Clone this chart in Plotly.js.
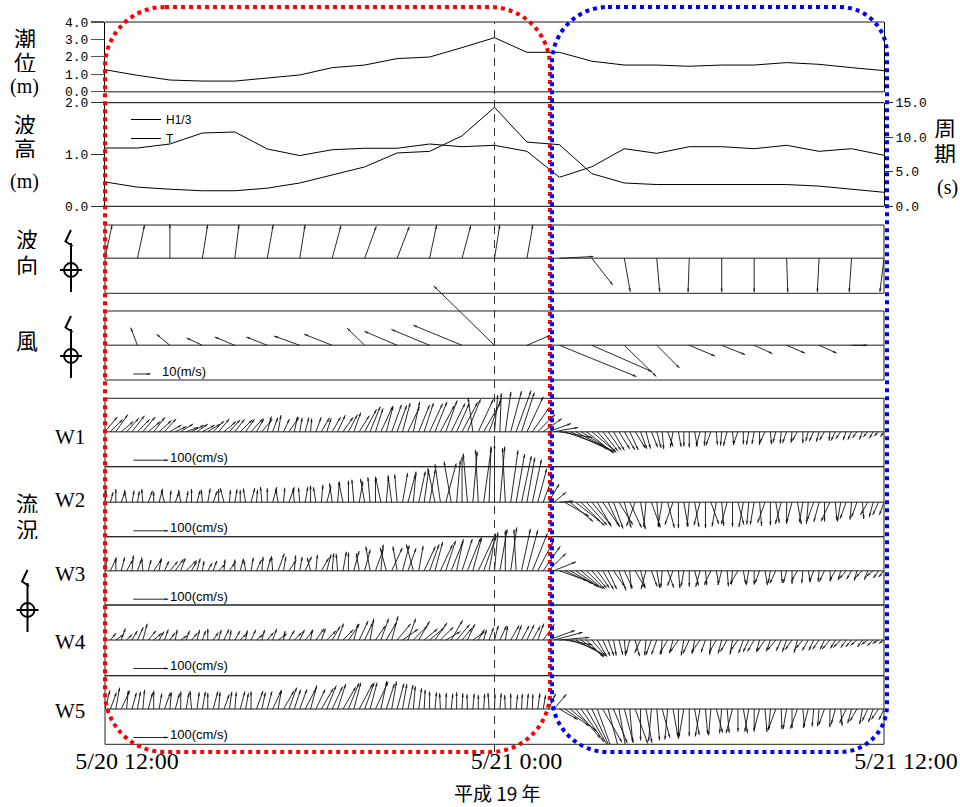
<!DOCTYPE html>
<html>
<head>
<meta charset="utf-8">
<script src="https://cdn.plot.ly/plotly-3.0.1.min.js"></script>
<style>
  html, body { margin: 0; padding: 0; background: #fff; }
  #chart { width: 960px; height: 807px; }
</style>
</head>
<body>
<div id="chart"></div>
<script>
// ---- Observation data, 5/20 12:00 – 5/21 12:00 (hours since 5/20 12:00) ----

// Hourly series
const hourlyTimes = [0,1,2,3,4,5,6,7,8,9,10,11,12,13,14,15,16,17,18,19,20,21,22,23,24];
const tideLevel   = [1.26,0.94,0.67,0.61,0.61,0.79,0.96,1.38,1.53,1.90,1.99,2.53,3.10,2.26,2.26,1.75,1.53,1.53,1.46,1.53,1.53,1.67,1.57,1.38,1.21];
const waveHeight  = [0.47,0.37,0.33,0.30,0.30,0.35,0.45,0.60,0.76,1.03,1.06,1.36,1.91,1.24,1.19,0.63,0.45,0.42,0.42,0.42,0.42,0.42,0.39,0.33,0.27];
const wavePeriod  = [8.44,8.44,9.02,10.61,10.76,8.30,7.35,8.19,8.40,8.40,9.02,8.63,8.83,7.96,4.20,5.73,8.34,7.67,8.63,8.63,8.34,8.83,7.96,8.34,7.38];
// wave direction (deg, clockwise from north, direction of travel)
const waveDirection = [12,12,0,9,7,10,9,15,20,21,12,15,9,10,87,142,170,175,182,180,180,178,183,184,187];
// wind components (m/s): east, north
const windU = [-5.2,-3.9,-7.7,-9.1,-11.6,-12.1,-14.9,-16.2,-10.2,-18.9,-22.1,-28.2,-35.1,13.5,44.5,34.7,18.5,13.1,14.9,13.5,10.6,10.6,10.2,9.2,6.5];
const windV = [4.0,10.2,6.4,4.2,4.8,4.8,5.4,6.4,10.0,8.1,9.2,11.6,34.3,5.8,-18.1,-15.2,-18.1,-13.1,-6.2,-5.4,-4.8,-4.5,-4.5,0,-2.5];

// 10-minute current records: speed (cm/s) and direction (deg, clockwise from north)
const w1Speed = [
  55,50,60,45,52,58, 50,55,45,52,48,50, 38,35,42,36,40,38, 40,42,44,48,45,46,
  45,48,44,50,42,46, 45,42,48,40,50,44, 40,42,38,44,46,40, 48,52,50,55,58,54,
  72,78,70,80,75,82, 80,85,78,88,82,86, 88,92,85,95,90,88, 95,100,98,102,96,100,
  105,110,115,120,125,118, 110,85,70,65,68,70, 95,115,120,118,110,100, 90,80,70,65,62,58,
  60,58,55,52,50,48, 48,50,45,46,44,42, 45,42,44,40,42,38, 40,42,38,40,36,38,
  36,38,34,36,32,34, 34,32,30,33,28,30, 30,28,26,28,25,26, 25,22,24,20,22,18, 18];
const w1Dir = [
  40,45,35,50,42,38, 45,40,50,38,48,42, 60,65,58,70,62,55, 62,58,45,40,50,42,
  38,45,35,42,30,40, 15,20,10,25,35,12, 10,15,5,20,30,18, 30,25,35,28,20,32,
  28,22,18,25,15,20, 20,15,25,12,22,18, 25,22,28,20,26,24, 28,22,-8,25,30,20,
  5,2,8,15,20,18, 25,35,45,55,70,80, 100,110,115,118,122,128, 130,138,142,145,150,148,
  150,155,148,160,165,158, 165,175,160,190,170,180, 180,170,195,185,200,175, 185,195,175,200,180,190,
  190,180,205,175,195,185, 200,185,210,180,195,205, 195,210,185,205,215,200, 205,215,200,220,210,225, 215];

const w2Speed = [
  35,30,38,32,36,34, 32,38,35,30,40,36, 34,30,36,32,38,35, 36,40,34,38,42,35,
  38,35,40,42,36,44, 40,45,38,42,46,40, 42,45,48,44,50,46, 55,60,58,62,65,60,
  68,72,70,75,72,78, 80,85,82,88,90,92, 95,100,110,115,118,120, 130,140,145,150,155,160,
  165,160,155,150,140,135, 130,125,100,80,60,45, 40,80,85,90,95,88, 85,80,82,78,80,75,
  75,80,72,78,70,76, 72,70,75,68,74,70, 70,72,68,74,66,70, 68,65,70,66,72,64,
  65,68,62,66,60,64, 62,60,64,58,62,56, 58,55,60,52,56,50, 50,45,48,42,44,40, 38];
const w2Dir = [
  5,15,0,20,-10,10, 10,-5,20,0,15,-15, 5,20,-10,10,0,15, -5,10,20,0,-15,5,
  10,0,-10,15,5,-5, 0,15,-10,5,20,-5, -5,10,0,-10,5,15, -8,5,-12,0,-5,10,
  -10,-5,0,-12,5,-8, -5,10,15,5,12,8, 10,-12,-8,15,-10,5, 0,-5,5,-3,8,2,
  0,5,-3,8,10,12, 10,12,15,20,30,50, 85,120,130,128,135,138, 140,150,145,155,160,148,
  165,155,200,170,185,160, 175,190,165,200,180,170, 185,170,195,180,160,190, 175,195,180,165,190,185,
  190,175,200,180,170,195, 180,195,170,190,185,200, 195,180,205,175,190,200, 185,200,175,210,195,205, 200];

const w3Speed = [
  38,42,35,40,36,44, 34,38,32,40,36,30, 35,40,38,42,30,36, 28,25,30,26,32,28,
  32,36,30,38,34,40, 38,42,52,40,36,44, 40,44,38,46,42,48, 50,48,55,52,58,50,
  62,70,65,75,68,72, 70,75,68,78,72,76, 80,85,82,90,88,92, 95,100,98,105,102,108,
  110,120,115,125,118,122, 120,115,95,85,70,68, 85,88,90,82,80,75, 65,60,62,58,55,60,
  55,52,58,50,54,48, 50,48,52,46,50,45, 46,44,48,42,45,40, 42,45,40,44,38,42,
  40,38,42,36,40,35, 36,38,34,36,32,35, 32,34,30,33,28,30, 28,30,26,28,25,26, 24];
const w3Dir = [
  10,25,0,15,30,5, 20,-5,15,35,10,25, 40,35,20,45,30,15, 10,30,20,45,5,35,
  0,15,-10,10,25,5, 15,-5,20,10,35,5, 10,25,-15,5,30,15, 5,-5,10,0,15,-10,
  15,-10,20,5,-15,25, -10,15,20,-15,10,25, 20,15,25,18,22,12, 18,22,15,25,20,10,
  5,10,0,8,-3,12, 15,22,28,35,45,68, 110,115,120,125,130,135, 140,145,150,155,145,160,
  155,175,150,165,195,160, 170,185,160,200,175,190, 180,165,195,175,205,170, 195,175,185,210,170,190,
  180,200,170,190,205,175, 195,180,210,185,170,200, 185,205,175,210,195,220, 210,195,225,200,230,215, 220];

const w4Speed = [
  30,25,28,35,22,30, 40,48,35,30,28,32, 25,30,22,28,26,30, 28,32,26,30,34,28,
  30,26,28,32,24,30, 28,34,30,26,32,30, 32,36,30,40,34,38, 45,50,42,55,48,60,
  55,62,50,65,58,70, 60,55,65,58,62,50, 55,60,52,48,65,58, 45,50,40,35,30,38,
  42,45,40,48,44,46, 48,45,50,55,80,85, 85,80,78,85,80,70, 60,55,50,48,45,44,
  45,42,48,40,44,46, 44,42,46,40,43,45, 42,40,44,38,42,40, 40,38,42,36,40,38,
  38,36,40,35,38,34, 36,34,38,32,35,33, 32,30,34,28,30,27, 26,24,25,22,24,20, 18];
const w4Dir = [
  -60,40,55,20,45,30, 25,15,40,50,30,20, 35,10,55,20,40,15, 20,0,35,15,25,10,
  30,45,10,25,50,15, 40,20,55,10,30,45, 25,40,10,35,20,45, 30,20,45,35,15,25,
  25,10,35,20,30,15, 40,55,20,45,30,50, 50,35,45,60,30,40, 40,25,55,30,15,20,
  15,25,10,30,20,28, 25,30,20,35,70,75, 85,100,110,118,125,135, 140,150,155,160,170,165,
  175,195,165,205,185,200, 200,185,210,195,215,190, 205,190,215,200,185,210, 195,210,190,215,200,205,
  210,195,215,200,220,205, 200,215,195,220,210,205, 215,205,220,210,225,215, 220,230,215,235,225,240, 235];

const w5Speed = [
  55,50,62,58,52,48, 50,55,48,52,45,50, 48,45,50,46,52,48, 50,46,52,48,44,50,
  48,52,46,50,55,48, 52,58,55,60,65,58, 60,65,70,62,68,72, 70,75,72,80,78,82,
  80,78,85,82,75,80, 75,72,70,65,60,55, 50,48,45,46,44,48, 45,42,44,40,43,46,
  42,45,40,44,41,43, 44,42,45,40,48,55, 60,85,100,110,115,120, 120,115,110,118,105,112,
  100,95,105,90,98,92, 90,85,88,80,86,82, 78,75,80,72,76,70, 70,68,72,65,70,66,
  65,62,66,60,64,58, 58,55,60,52,56,50, 50,48,52,45,48,44, 42,40,44,38,40,36, 34];
const w5Dir = [
  15,20,10,25,5,15, 10,5,15,0,10,20, 5,15,0,10,-5,8, 10,0,15,5,20,8,
  5,15,10,0,20,12, 15,25,10,30,20,18, 20,28,15,25,30,22, 25,18,30,22,15,28,
  20,15,25,12,18,10, 15,10,12,5,8,3, 0,5,-3,2,6,0, 3,-2,5,0,4,-4,
  2,5,-3,0,6,3, 5,2,8,10,25,40, 120,125,130,140,145,150, 155,160,150,165,158,170,
  165,175,160,180,170,185, 175,165,185,170,180,190, 180,170,190,175,185,165, 185,175,195,180,170,190,
  180,195,175,185,200,178, 190,180,200,175,195,185, 185,200,180,195,175,205, 195,210,190,205,200,215, 205];

// Reference vectors for the scale keys
const windScaleRef = 10;      // m/s
const currentScaleRef = 100;  // cm/s

// Time axis labels
const xTickVals = [0, 12, 24];
const xTickText = ['5/20 12:00', '5/21 0:00', '5/21 12:00'];

// ---- Page geometry ----
const W = 960, H = 807, ML = 105, MR = 76, MT = 22, MB = 63;
const PW = W - ML - MR, PH = H - MT - MB;
const P = {
  x: px => (px - ML) / PW,
  y: py => (H - MB - py) / PH
};
const pxPerHour = PW / 24;
const currentTimes = Array.from({length: w1Speed.length}, (_, i) => i / 6);

// Vector panels: frame top, baseline, frame bottom (px) and vector scale (px per unit)
const vecPanels = {
  wave: {axis: 'y4', top: 225,   base: 258.3, bottom: 293.3, k: 34},
  wind: {axis: 'y5', top: 311,   base: 345.3, bottom: 380,   k: 1.73},
  W1:   {axis: 'y6', top: 398.3, base: 431.7, bottom: 466.7, k: 0.35},
  W2:   {axis: 'y7', top: 466.7, base: 502.3, bottom: 536.7, k: 0.35},
  W3:   {axis: 'y8', top: 536.7, base: 570.7, bottom: 605,   k: 0.35},
  W4:   {axis: 'y9', top: 605,   base: 640,   bottom: 675.7, k: 0.35},
  W5:   {axis: 'y10', top: 675.7, base: 709,  bottom: 744.3, k: 0.35}
};

// Every vector axis spans the full plot height so long sticks can cross frames
function vecAxis(p) {
  return {
    domain: [0, 1], anchor: 'x', visible: false, fixedrange: true,
    range: [-(H - MB - p.base) / p.k, (p.base - MT) / p.k]
  };
}

// Stick-arrow trace: tails on the baseline (or y0), tips offset by (u, v)
function stickTrace(times, u, v, p, head, y0) {
  const base = y0 || 0;
  const x = [], y = [], size = [], angle = [];
  times.forEach((t, i) => {
    x.push(t, t + u[i] * p.k / pxPerHour, null);
    y.push(base, base + v[i], null);
    size.push(0, head, 0);
    angle.push(0, Math.atan2(u[i], v[i]) * 180 / Math.PI, 0);
  });
  return {
    type: 'scatter', mode: 'lines+markers', x, y, xaxis: 'x', yaxis: p.axis,
    line: {color: '#111', width: 0.9},
    marker: {symbol: 'arrow', size, angle, color: '#111', line: {width: 0}},
    showlegend: false, hoverinfo: 'skip', cliponaxis: false
  };
}

function polar(speed, dir) {
  return {
    u: speed.map((s, i) => s * Math.sin(dir[i] * Math.PI / 180)),
    v: speed.map((s, i) => s * Math.cos(dir[i] * Math.PI / 180))
  };
}

const traces = [];

// Tide level
traces.push({
  type: 'scatter', mode: 'lines', x: hourlyTimes, y: tideLevel, xaxis: 'x', yaxis: 'y',
  line: {color: '#000', width: 1}, showlegend: false, hoverinfo: 'skip'
});
// Significant wave height and period
traces.push({
  type: 'scatter', mode: 'lines', name: 'H1/3', x: hourlyTimes, y: waveHeight, xaxis: 'x', yaxis: 'y2',
  line: {color: '#000', width: 1}, hoverinfo: 'skip'
});
traces.push({
  type: 'scatter', mode: 'lines', name: 'T', x: hourlyTimes, y: wavePeriod, xaxis: 'x', yaxis: 'y3',
  line: {color: '#000', width: 1}, hoverinfo: 'skip'
});

// Wave direction (unit sticks)
const waveU = waveDirection.map(d => Math.sin(d * Math.PI / 180));
const waveV = waveDirection.map(d => Math.cos(d * Math.PI / 180));
traces.push(stickTrace(hourlyTimes, waveU, waveV, vecPanels.wave, 4));

// Wind
traces.push(stickTrace(hourlyTimes, windU, windV, vecPanels.wind, 4));
const keyTime = (133.3 - ML) / pxPerHour;
traces.push(stickTrace([keyTime], [windScaleRef], [0], vecPanels.wind, 4, -(374 - vecPanels.wind.base) / vecPanels.wind.k));

// Currents W1–W5
const currents = [
  ['W1', w1Speed, w1Dir], ['W2', w2Speed, w2Dir], ['W3', w3Speed, w3Dir],
  ['W4', w4Speed, w4Dir], ['W5', w5Speed, w5Dir]
];
currents.forEach(([name, s, d]) => {
  const p = vecPanels[name];
  const c = polar(s, d);
  traces.push(stickTrace(currentTimes, c.u, c.v, p, 4));
  traces.push(stickTrace([keyTime], [currentScaleRef], [0], p, 4, -28.5 / p.k));
});

// ---- Shapes: frames, marker line, highlight outlines, compass glyphs ----
const shapes = [];
const hline = (py, color, width, x0px, x1px) => ({
  type: 'line', xref: 'paper', yref: 'paper', layer: 'below',
  x0: P.x(x0px === undefined ? ML : x0px), x1: P.x(x1px === undefined ? W - MR : x1px),
  y0: P.y(py), y1: P.y(py), line: {color, width}
});

// tide panel top/bottom
shapes.push(hline(22, '#666', 1.5));
shapes.push(hline(91.7, '#666', 1.5));
// wave panel top/bottom
shapes.push(hline(102.7, '#000', 1));
shapes.push(hline(206.3, '#000', 1));

Object.values(vecPanels).forEach(p => {
  shapes.push({
    type: 'rect', xref: 'paper', yref: 'paper', layer: 'below',
    x0: P.x(ML), x1: P.x(W - MR), y0: P.y(p.bottom), y1: P.y(p.top),
    line: {color: '#222', width: 1}
  });
  shapes.push(hline(p.base, '#666', 1.5));
});

// 5/21 0:00 marker
shapes.push({
  type: 'line', xref: 'x', yref: 'paper', x0: 12, x1: 12, y0: P.y(752), y1: P.y(22),
  line: {color: '#333', width: 1, dash: '8px,6px'}
});

function roundedFrame(x0, y0, x1, y1, rl, rr) {
  const c = 0.5523;
  const f = (x, y) => P.x(x).toFixed(5) + ',' + P.y(y).toFixed(5);
  let d = 'M' + f(x0 + rl, y0);
  d += ' L' + f(x1 - rr, y0);
  d += ' C' + f(x1 - rr + rr * c, y0) + ' ' + f(x1, y0 + rr - rr * c) + ' ' + f(x1, y0 + rr);
  d += ' L' + f(x1, y1 - rr);
  d += ' C' + f(x1, y1 - rr + rr * c) + ' ' + f(x1 - rr + rr * c, y1) + ' ' + f(x1 - rr, y1);
  d += ' L' + f(x0 + rl, y1);
  d += ' C' + f(x0 + rl - rl * c, y1) + ' ' + f(x0, y1 - rl + rl * c) + ' ' + f(x0, y1 - rl);
  d += ' L' + f(x0, y0 + rl);
  d += ' C' + f(x0, y0 + rl - rl * c) + ' ' + f(x0 + rl - rl * c, y0) + ' ' + f(x0 + rl, y0);
  return d + ' Z';
}
shapes.push({type: 'path', xref: 'paper', yref: 'paper', path: roundedFrame(105, 7, 550, 752, 60, 60),
  line: {color: '#ff0000', width: 4, dash: 'dot'}});
shapes.push({type: 'path', xref: 'paper', yref: 'paper', path: roundedFrame(552, 7, 887, 752, 56, 47),
  line: {color: '#0000ff', width: 4, dash: 'dot'}});

// north-arrow compass glyphs
function compass(cx, cy) {
  const ln = (x0, y0, x1, y1) => ({type: 'line', xref: 'paper', yref: 'paper',
    x0: P.x(x0), x1: P.x(x1), y0: P.y(y0), y1: P.y(y1), line: {color: '#000', width: 2}});
  return [
    {type: 'circle', xref: 'paper', yref: 'paper', x0: P.x(cx - 7), x1: P.x(cx + 7),
      y0: P.y(cy + 7), y1: P.y(cy - 7), line: {color: '#000', width: 1.8}},
    ln(cx - 11, cy, cx + 11, cy),
    ln(cx, cy - 27, cx, cy + 22),
    {type: 'path', xref: 'paper', yref: 'paper',
      path: 'M' + P.x(cx) + ',' + P.y(cy - 40) + ' L' + P.x(cx - 5.5) + ',' + P.y(cy - 28.5) +
            ' L' + P.x(cx + 1.5) + ',' + P.y(cy - 24),
      line: {color: '#000', width: 2}}
  ];
}
shapes.push(...compass(71, 270), ...compass(71, 356), ...compass(27.5, 610));

// ---- Text ----
const cjk = {family: 'Noto Sans CJK JP', size: 22, color: '#000'};
const serif = size => ({family: 'Liberation Serif', size, color: '#000'});
const sans = {family: 'Liberation Sans', size: 13, color: '#000'};
function label(text, cx, cy, font, xanchor, boxH) {
  const a = {text, x: P.x(cx), y: P.y(cy), xref: 'paper', yref: 'paper',
    xanchor: xanchor || 'center', yanchor: 'middle', showarrow: false, font};
  if (boxH) { a.height = boxH; a.borderpad = 0; }
  return a;
}
const annotations = [
  label('潮', 25, 37, cjk, 'center', 22), label('位', 25, 61, cjk, 'center', 22), label('(m)', 24, 86, serif(20)),
  label('波', 25, 123, cjk, 'center', 22), label('高', 25, 147, cjk, 'center', 22), label('(m)', 24, 181, serif(20)),
  label('波', 27, 238, cjk, 'center', 22), label('向', 27, 264, cjk, 'center', 22),
  label('風', 27, 339, cjk),
  label('流', 27, 502, cjk, 'center', 22), label('況', 27, 528, cjk, 'center', 22),
  label('周', 945, 127, cjk, 'center', 22), label('期', 945, 152, cjk, 'center', 22), label('(s)', 947, 187, serif(20)),
  label('W1', 70, 437, serif(21)), label('W2', 70, 500, serif(21)), label('W3', 70, 574, serif(21)),
  label('W4', 70, 642, serif(21)), label('W5', 70, 711, serif(21)),
  label('10(m/s)', 160, 371, sans, 'left'),
  label('平成 19 年', 497, 793, {family: 'Noto Sans CJK JP', size: 19, color: '#000'})
];
['W1', 'W2', 'W3', 'W4', 'W5'].forEach(n => {
  annotations.push(label('100(cm/s)', 168, vecPanels[n].base + 25.5, sans, 'left'));
});

const tickFont = {family: 'Liberation Mono', size: 13, color: '#000'};
const layout = {
  width: W, height: H,
  margin: {l: ML, r: MR, t: MT, b: MB, pad: 0},
  paper_bgcolor: '#fff', plot_bgcolor: 'rgba(0,0,0,0)',
  hovermode: false,
  showlegend: true,
  legend: {x: P.x(126), y: P.y(105), xanchor: 'left', yanchor: 'top', bgcolor: 'rgba(0,0,0,0)',
    borderwidth: 0, font: {family: 'Liberation Sans', size: 12, color: '#000'}, itemwidth: 30, tracegroupgap: 0},
  xaxis: {
    domain: [0, 1], range: [0, 24], anchor: 'y4', showgrid: false, zeroline: false, showline: false,
    ticks: '', tickvals: xTickVals, ticktext: xTickText, ticklabelshift: 22,
    tickfont: {family: 'Liberation Serif', size: 24, color: '#000'}, fixedrange: true
  },
  yaxis: {
    domain: [P.y(91.7), P.y(22)], range: [0, 4], anchor: 'x', dtick: 1, tickformat: '.1f',
    ticks: 'outside', ticklen: 13, tickcolor: '#555', tickwidth: 1.2, tickfont: tickFont,
    showline: true, linecolor: '#000', linewidth: 1, mirror: true,
    showgrid: false, zeroline: false, fixedrange: true
  },
  yaxis2: {
    domain: [P.y(206.3), P.y(102.7)], range: [0, 2], anchor: 'x', dtick: 1, tickformat: '.1f',
    ticks: 'outside', ticklen: 13, tickcolor: '#333', tickfont: tickFont,
    showline: true, linecolor: '#000', linewidth: 1,
    showgrid: false, zeroline: false, fixedrange: true
  },
  yaxis3: {
    overlaying: 'y2', side: 'right', range: [0, 15], anchor: 'x', dtick: 5, tickformat: '.1f',
    ticks: 'outside', ticklen: 8, tickcolor: '#333', tickfont: tickFont,
    showline: true, linecolor: '#000', linewidth: 1,
    showgrid: false, zeroline: false, fixedrange: true
  },
  yaxis4: vecAxis(vecPanels.wave),
  yaxis5: vecAxis(vecPanels.wind),
  yaxis6: vecAxis(vecPanels.W1),
  yaxis7: vecAxis(vecPanels.W2),
  yaxis8: vecAxis(vecPanels.W3),
  yaxis9: vecAxis(vecPanels.W4),
  yaxis10: vecAxis(vecPanels.W5),
  shapes, annotations
};

Plotly.newPlot('chart', traces, layout, {displayModeBar: false, staticPlot: true});
</script>
</body>
</html>
